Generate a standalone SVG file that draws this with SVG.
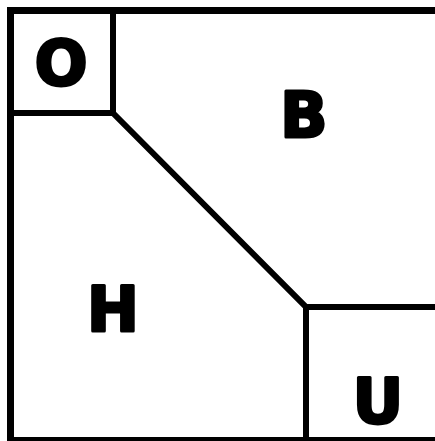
<svg xmlns="http://www.w3.org/2000/svg" width="435" height="441" viewBox="0 0 435 441">
<style>
.ln{fill:none;stroke:#000;stroke-width:6;stroke-linecap:square}
.lbl{font-family:"DejaVu Sans",sans-serif;font-weight:bold;font-size:62px;fill:#000;stroke:#000;stroke-width:3;stroke-linejoin:round;text-anchor:middle}
</style>
<rect width="435" height="441" fill="#fff"/>
<g id="connectors">
<rect x="10.5" y="10.5" width="430" height="430" fill="none" stroke="#000" stroke-width="7"/>
<path class="ln" d="M113 10V113H10"/>
<path class="ln" d="M113 113L306 307"/>
<path class="ln" d="M306 441V307H435"/>
</g>
<g id="O"><text class="lbl" x="61" y="85">O</text></g>
<g id="B"><text class="lbl" x="304" y="137">B</text></g>
<g id="H"><text class="lbl" x="113" y="331">H</text></g>
<g id="U"><text class="lbl" x="378" y="423">U</text></g>
</svg>
